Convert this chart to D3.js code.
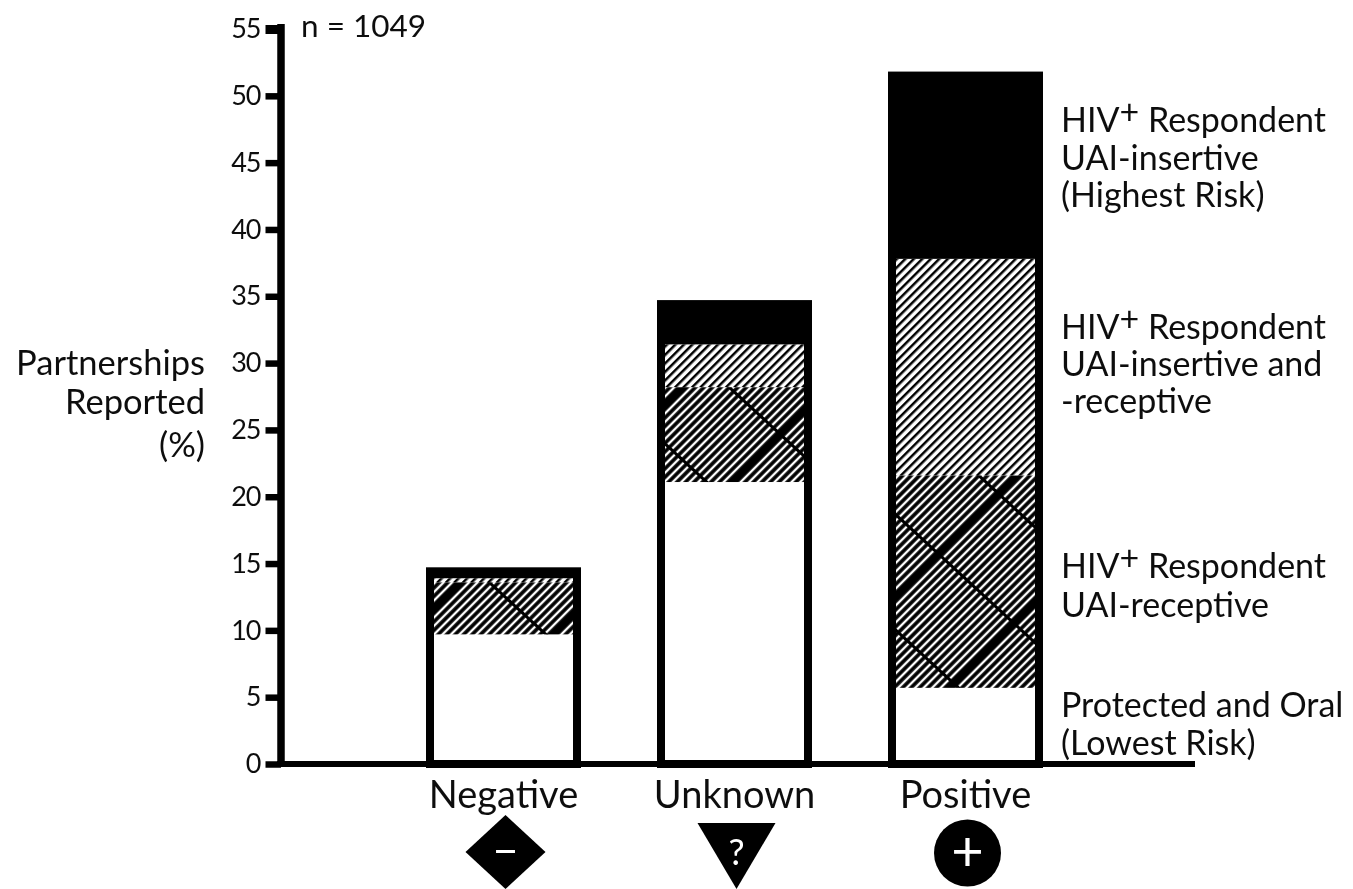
<!DOCTYPE html>
<html>
<head>
<meta charset="utf-8">
<script src="https://cdn.jsdelivr.net/npm/d3@7"></script>
<style>
  html, body { margin: 0; padding: 0; background: #fff; overflow: hidden; }
  text { font-family: Lato, "Open Sans", sans-serif; fill: #111; }
</style>
</head>
<body>
<div id="chart"></div>
<script>
// data
var categories = ["Negative", "Unknown", "Positive"];
var stackKeys = ["protected", "receptive", "both", "insertive"];
var protectedVals = [9.7, 21.1, 5.7];
var receptiveVals = [3.9, 7.1, 15.9];
var bothVals = [0.3, 3.2, 16.2];
var insertiveVals = [0.8, 3.3, 14.0];
var yTicks = [0, 5, 10, 15, 20, 25, 30, 35, 40, 45, 50, 55];
var symbolSigns = ["\u2212", "?", "+"];
var legendLines = [
  ["HIV|+| Respondent", "UAI-insertive", "(Highest Risk)"],
  ["HIV|+| Respondent", "UAI-insertive and", "-receptive"],
  ["HIV|+| Respondent", "UAI-receptive"],
  ["Protected and Oral", "(Lowest Risk)"]
];
var legendBaselines = [[132, 170, 207], [339, 376, 413], [578, 617], [717, 755]];
var yTitle = ["Partnerships", "Reported", "(%)"];

var width = 1353, height = 889;

var svg = d3.select("#chart")
  .append("svg")
    .attr("width", width)
    .attr("height", height)
    .style("display", "block");

var defs = svg.append("defs");

// slight softening, the source is a scaled-up bitmap
defs.append("filter").attr("id", "soft")
    .attr("x", 0).attr("y", 0).attr("width", 1).attr("height", 1)
  .append("feGaussianBlur").attr("stdDeviation", 0.6);

// light hatch
var light = defs.append("pattern")
    .attr("id", "lightHatch")
    .attr("patternUnits", "userSpaceOnUse")
    .attr("width", 6).attr("height", 10)
    .attr("patternTransform", "rotate(45)");
light.append("rect").attr("width", 6).attr("height", 10).attr("fill", "#fff");
light.append("rect").attr("width", 2.5).attr("height", 10).attr("fill", "#000");

// dark hatch per bar, one white line in 17 is left out; crossing lines on top
var bandPhase = [23.5, 42.6, 35.5];
var crossOffset = [11, 45, 26];
categories.forEach(function(c, i) {
  var dark = defs.append("pattern")
    .attr("id", "darkHatch" + i)
    .attr("patternUnits", "userSpaceOnUse")
    .attr("width", 102).attr("height", 10)
    .attr("patternTransform", "rotate(45) translate(" + bandPhase[i] + ",0)");
  dark.append("rect").attr("width", 102).attr("height", 10).attr("fill", "#000");
  dark.selectAll("rect.line")
    .data(d3.range(1, 17))
    .enter()
    .append("rect")
      .attr("class", "line")
      .attr("x", function(d) { return d * 6 - 1.2; })
      .attr("width", 2.4)
      .attr("height", 10)
      .attr("fill", "#fff");

  var p = defs.append("pattern")
    .attr("id", "cross" + i)
    .attr("patternUnits", "userSpaceOnUse")
    .attr("width", 10).attr("height", 85)
    .attr("patternTransform", "rotate(42.6) translate(0," + crossOffset[i] + ")");
  p.append("rect").attr("width", 10).attr("height", 3).attr("fill", "#000");
});

var g = svg.append("g").attr("filter", "url(#soft)");
g.append("rect").attr("width", width).attr("height", height).attr("fill", "#fff");

var y = d3.scaleLinear().domain([0, 55]).range([764, 29]);
var x = d3.scaleBand().domain(categories).range([426, 1043]).paddingInner(76 / 231);

var rows = categories.map(function(c, i) {
  return {
    category: c, index: i,
    protected: protectedVals[i], receptive: receptiveVals[i],
    both: bothVals[i], insertive: insertiveVals[i]
  };
});
var series = d3.stack().keys(stackKeys)(rows);
var fills = {
  protected: function() { return "#fff"; },
  receptive: function(d) { return "url(#darkHatch" + d.data.index + ")"; },
  both: function() { return "url(#lightHatch)"; },
  insertive: function() { return "#000"; }
};

// Bars
series.forEach(function(s) {
  g.selectAll("rect." + s.key)
    .data(s)
    .enter()
    .append("rect")
    .attr("class", s.key)
    .attr("x", function(d) { return x(d.data.category); })
    .attr("y", function(d) { return y(d[1]); })
    .attr("width", x.bandwidth())
    .attr("height", function(d) { return y(d[0]) - y(d[1]); })
    .attr("fill", fills[s.key]);

  if (s.key === "receptive") {
    g.selectAll("rect.crossing")
      .data(s)
      .enter()
      .append("rect")
      .attr("class", "crossing")
      .attr("x", function(d) { return x(d.data.category); })
      .attr("y", function(d) { return y(d[1]); })
      .attr("width", x.bandwidth())
      .attr("height", function(d) { return y(d[0]) - y(d[1]); })
      .attr("fill", function(d) { return "url(#cross" + d.data.index + ")"; });
  }
});

// bar outlines
g.selectAll("rect.outline")
  .data(series[series.length - 1])
  .enter()
  .append("rect")
  .attr("class", "outline")
  .attr("x", function(d) { return x(d.data.category) + 4; })
  .attr("y", function(d) { return y(d[1]) + 4; })
  .attr("width", x.bandwidth() - 8)
  .attr("height", function(d) { return y(0) - y(d[1]) - 4; })
  .attr("fill", "none")
  .attr("stroke", "#000")
  .attr("stroke-width", 8);

// Y axis
var yAxis = g.append("g")
  .attr("transform", "translate(281,0)")
  .call(d3.axisLeft(y).tickValues(yTicks).tickSize(15.5).tickSizeOuter(0).tickPadding(5));
yAxis.select(".domain").attr("stroke", "#000").attr("stroke-width", 7.5)
  .attr("d", "M0," + (y(55) - 5) + "V" + y(0));
yAxis.selectAll(".tick line")
  .attr("stroke", "#000")
  .attr("stroke-width", function(d) { return d === 55 ? 9 : 6.5; });
yAxis.selectAll(".tick text")
  .style("font-size", "27px")
  .style("font-family", 'Lato, sans-serif')
  .style("letter-spacing", "-1px")
  .attr("fill", "#111");

// X axis
var xAxis = g.append("g")
  .attr("transform", "translate(0," + y(0) + ")")
  .call(d3.axisBottom(x).tickSize(0).tickPadding(17));
xAxis.select(".domain").attr("stroke", "#000").attr("stroke-width", 6)
  .attr("d", "M277,0H1195");
xAxis.selectAll(".tick text")
  .style("font-size", "38px")
  .style("font-family", 'Lato, sans-serif')
  .attr("fill", "#111");

// status symbols under the categories
var shape = d3.line();
var marks = g.selectAll("g.mark")
  .data(categories)
  .enter()
  .append("g")
  .attr("class", "mark")
  .attr("transform", function(d) {
    return "translate(" + (x(d) + x.bandwidth() / 2 + 2) + ",852)";
  });
marks.filter(function(d, i) { return i === 0; }).append("path")
  .attr("d", shape([[0, -37], [40, 0], [0, 37], [-40, 0]]) + "Z");
marks.filter(function(d, i) { return i === 1; }).append("path")
  .attr("d", shape([[-39, -29], [39, -29], [0, 37]]) + "Z");
marks.filter(function(d, i) { return i === 2; }).append("circle").attr("cy", 1).attr("r", 33.5);
marks.append("text")
  .attr("text-anchor", "middle")
  .attr("y", function(d, i) { return [15, 13, 19][i]; })
  .style("fill", "#fff")
  .style("font-size", function(d, i) { return [44, 36, 56][i] + "px"; })
  .text(function(d, i) { return symbolSigns[i]; });

// sample size
g.append("text").attr("x", 301).attr("y", 37).style("font-size", "31.5px").text("n = 1049");

// y title
g.selectAll("text.ytitle")
  .data(yTitle)
  .enter()
  .append("text")
  .attr("class", "ytitle")
  .attr("x", 205)
  .attr("y", function(d, i) { return [375, 414, 457][i]; })
  .attr("text-anchor", "end")
  .style("font-size", "34.5px")
  .text(function(d) { return d; });

// right hand labels
legendLines.forEach(function(lines, k) {
  lines.forEach(function(line, j) {
    var t = g.append("text")
      .attr("x", 1061)
      .attr("y", legendBaselines[k][j])
      .style("font-size", "34px");
    var parts = line.split("|");
    if (parts.length === 3) {
      t.append("tspan").text(parts[0]);
      t.append("tspan").attr("dy", -8).text(parts[1]);
      t.append("tspan").attr("dy", 8).text(parts[2]);
    } else {
      t.text(line);
    }
  });
});
</script>
</body>
</html>
